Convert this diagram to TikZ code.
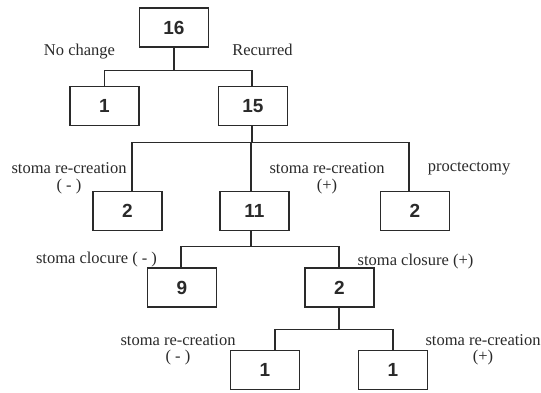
\documentclass[tikz,border=0pt]{standalone}
\usepackage{fontspec}
\setmainfont{Liberation Serif}
\newfontfamily\numfont{Liberation Sans}
\definecolor{ink}{HTML}{2A2A2A}
\begin{document}
\begin{tikzpicture}[x=1pt,y=-1pt,
  numbox/.style={draw=ink,line width=1.3pt,minimum width=69pt,minimum height=39pt,inner sep=0pt,
    font=\numfont\bfseries\fontsize{19}{19}\selectfont,text=ink},
  lbl/.style={font=\fontsize{16.5}{16.5}\selectfont,text=ink,inner sep=0pt,align=center},
  conn/.style={draw=ink,line width=1.2pt}]
\useasboundingbox (0,0) rectangle (541,392);
\fill[white] (0,0) rectangle (541,392);
% boxes
\node[numbox] (b16) at (174,27.5) {16};
\node[numbox] (b1)  at (104.5,106) {1};
\node[numbox] (b15) at (253,106) {15};
\node[numbox] (c2a) at (127.5,211) {2};
\node[numbox] (c11) at (254.5,211) {11};
\node[numbox] (c2b) at (415,211) {2};
\node[numbox] (d9)  at (182,287.5) {9};
\node[numbox] (d2)  at (339.5,287.5) {2};
\node[numbox] (e1a) at (265,370) {1};
\node[numbox] (e1b) at (393,370) {1};
% connectors
\draw[conn] (b16.south) -- ++(0,23) -| (b1.north);
\draw[conn] (b16.south) -- ++(0,23) -| ([xshift=-1pt]b15.north);
\draw[conn] ([xshift=-1pt]b15.south) -- ++(0,16) -| ([xshift=4.5pt]c2a.north);
\draw[conn] ([xshift=-1pt]b15.south) -- ++(0,16) -| ([xshift=-3.5pt]c11.north);
\draw[conn] ([xshift=-1pt]b15.south) -- ++(0,16) -| ([xshift=-6pt]c2b.north);
\draw[conn] ([xshift=-3.5pt]c11.south) -- ++(0,15) -| ([xshift=-1pt]d9.north);
\draw[conn] ([xshift=-3.5pt]c11.south) -- ++(0,15) -| ([xshift=-0.5pt]d2.north);
\draw[conn] ([xshift=-0.5pt]d2.south) -- ++(0,22) -| ([xshift=10pt]e1a.north);
\draw[conn] ([xshift=-0.5pt]d2.south) -- ++(0,22) -| (e1b.north);
% labels
\node[lbl] (l1) at (79.5,52) {No change};
\node[lbl] (l2) at (262.5,50) {Recurred};
\node[lbl] (l3) at (69,178.5) {stoma re-creation\\( - )};
\node[lbl] (l4) at (327,178.5) {stoma re-creation\\(+)};
\node[lbl] (l5) at (469,169) {proctectomy};
\node[lbl] (l6) at (96.5,260) {stoma clocure ( - )};
\node[lbl] (l7) at (415.5,262) {stoma closure (+)};
\node[lbl] (l8) at (178,350) {stoma re-creation\\( - )};
\node[lbl] (l9) at (483,350) {stoma re-creation\\(+)};
\end{tikzpicture}
\end{document}
